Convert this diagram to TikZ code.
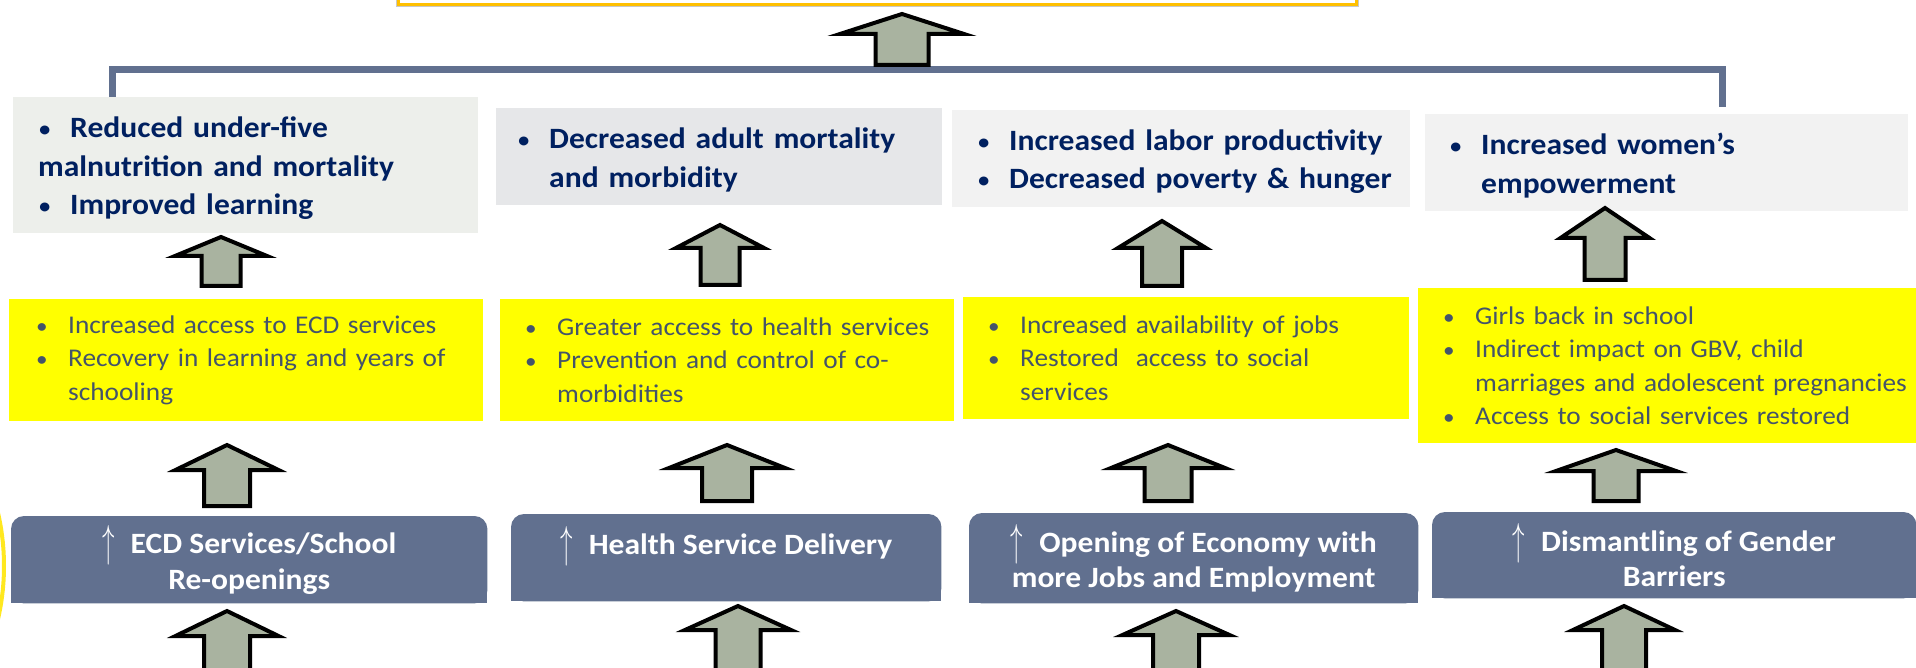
\documentclass[tikz,border=0pt]{standalone}
\usepackage{fontspec}
\setmainfont{Carlito}[FakeStretch=1.07]
\usepackage{graphicx}
\usetikzlibrary{positioning,backgrounds}

\definecolor{GoalOrange}{HTML}{FFC000}
\definecolor{GoalGray}{HTML}{C8C8C8}
\definecolor{SlateBlue}{HTML}{61708F}
\definecolor{OutcomeNavy}{HTML}{002060}
\definecolor{OutcomeA}{HTML}{EDEFEB}
\definecolor{OutcomeB}{HTML}{E6E7E9}
\definecolor{OutcomeC}{HTML}{F2F2F2}
\definecolor{ResultYellow}{HTML}{FFFF00}
\definecolor{ResultText}{HTML}{44546A}
\definecolor{ArrowSage}{HTML}{A9B3A0}
\definecolor{ArcYellow}{HTML}{FFE81F}

% one line of a list: with a bullet, or indented as a continuation
\newcommand{\bulline}[1]{\mbox{\makebox[32pt][l]{\mdseries\scalebox{0.85}{\textbullet}}#1}}
\newcommand{\contline}[1]{\mbox{\hspace*{32pt}#1}}
\newcommand{\upar}{\raisebox{-3pt}{\scalebox{1}[1.8]{$\uparrow$}}\hspace{0.55em}}

\begin{document}
\begin{tikzpicture}[
    x=1pt, y=-1pt,
    goalbox/.style={anchor=north west, fill=white, draw=GoalOrange, line width=3pt,
      preaction={draw=GoalGray, line width=5pt}},
    outcome/.style={anchor=north west, inner sep=0pt, align=left, text=OutcomeNavy,
      font=\fontsize{29.5}{38.5}\selectfont\bfseries,
      execute at begin node={\rule{0pt}{27pt}}},
    result/.style={anchor=north west, inner sep=0pt, align=left, fill=ResultYellow,
      text=ResultText, font=\fontsize{25.5}{33.5}\selectfont},
    driver/.style={anchor=north west, inner sep=0pt, align=center, text=white,
      font=\fontsize{29.5}{35.5}\selectfont\bfseries},
    blockarrow/.style={fill=ArrowSage, draw=black, line width=4pt, line join=miter},
    bracket/.style={draw=SlateBlue, line width=7pt}
  ]
  \useasboundingbox (0,0) rectangle (1916,668);
  \clip (0,0) rectangle (1916,668);

  % goal box, mostly above the frame
  \node[goalbox, minimum width=958pt, minimum height=63pt] (goal) at (397,-60) {};
  \draw[ArcYellow, line width=4pt] (-232,566) circle [radius=236pt];

  % outcomes
  \node[outcome, fill=OutcomeA, minimum width=465pt, minimum height=136pt, text width=415pt] (o1) at (13,97)
    {\bulline{Reduced under-five}\\\mbox{malnutrition and mortality}\\\bulline{Improved learning}};
  \node[outcome, fill=OutcomeB, minimum width=446pt, minimum height=97pt, text width=404pt] (o2) at (496,108)
    {\bulline{Decreased adult mortality}\\\contline{and morbidity}};
  \node[outcome, fill=OutcomeC, minimum width=458pt, minimum height=97pt, text width=408pt] (o3) at (952,110)
    {\bulline{Increased labor productivity}\\\bulline{Decreased poverty \& hunger}};
  \node[outcome, fill=OutcomeC, minimum width=483pt, minimum height=97pt, text width=435pt] (o4) at (1425,114)
    {\bulline{Increased women’s}\\\contline{empowerment}};

  % results
  \node[result, minimum width=474pt, minimum height=122pt, text width=420pt] (r1) at (9,299)
    {\bulline{Increased access to ECD services}\\\bulline{Recovery in learning and years of}\\\contline{schooling}};
  \node[result, minimum width=454pt, minimum height=122pt, text width=404pt] (r2) at (500,299)
    {\bulline{Greater access to health services}\\\bulline{Prevention and control of co-}\\\contline{morbidities}};
  \node[result, minimum width=446pt, minimum height=122pt, text width=396pt] (r3) at (963,297)
    {\bulline{Increased availability of jobs}\\\bulline{Restored\ \ access to social}\\\contline{services}};
  \node[result, minimum width=542pt, minimum height=155pt, text width=492pt] (r4) at (1418,288)
    {\bulline{Girls back in school}\\\bulline{Indirect impact on GBV, child}\\\contline{marriages and adolescent pregnancies}\\\bulline{Access to social services restored}};

  % drivers
  \node[driver, minimum width=476pt, minimum height=87pt] (d1) at (11,516)
    {\upar ECD Services/School\\Re-openings};
  \node[driver, minimum width=430pt, minimum height=87pt] (d2) at (511,514)
    {\upar Health Service Delivery\\\mbox{}};
  \node[driver, minimum width=449pt, minimum height=90pt] (d3) at (969,513)
    {\upar Opening of Economy with\\more Jobs and Employment};
  \node[driver, minimum width=484pt, minimum height=86pt] (d4) at (1432,512)
    {\upar Dismantling of Gender\\Barriers};
  \begin{scope}[on background layer]
    \foreach \n in {d1,d2,d3,d4}{
      \fill[SlateBlue, rounded corners=13pt] (\n.south west) rectangle (\n.north east);
      \fill[SlateBlue] (\n.south west) rectangle (\n.east);
    }
  \end{scope}

  % bracket over the outcomes
  \coordinate (brL) at (112,97);
  \coordinate (brM) at (902,70);
  \coordinate (brR) at (1722,107);
  \draw[bracket] (brL) |- (brM) -| (brR);

  % block arrows: centre/tip/head base/foot/head half width/shaft half width
  \foreach \x/\t/\b/\f/\h/\s in {
      902/14/34/65/62/26.5,
      221/237/256/286/46/19.5, 720/225/248/285/44/19.5,
      1162/221/248/286/44/20, 1605/208/238/280/44.5/20.5,
      227/445/470/506/51.5/23, 727/445/468/501/58/25,
      1168/445/468/501/57/23.5, 1616/450/471/501/60/22.5,
      227/611/636/690/51.5/23, 738/606/630/690/53/22.5,
      1176/611/635/690/53.5/23, 1624/606/630/690/51/22}
    \filldraw[blockarrow] (\x,\t) -- (\x+\h,\b) -- (\x+\s,\b) -- (\x+\s,\f)
      -- (\x-\s,\f) -- (\x-\s,\b) -- (\x-\h,\b) -- cycle;
\end{tikzpicture}
\end{document}
